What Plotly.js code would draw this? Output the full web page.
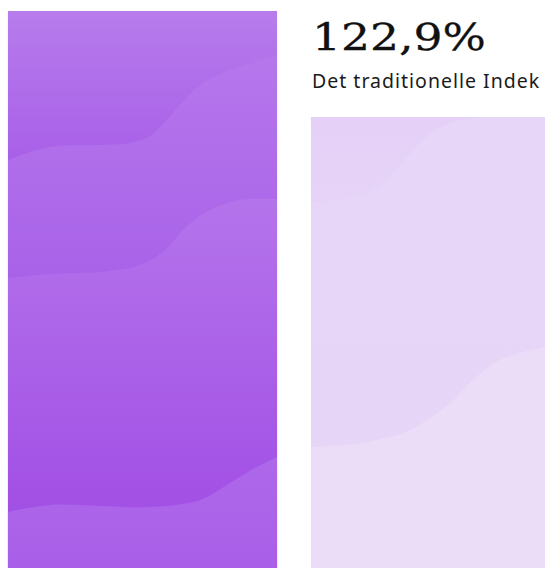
<!DOCTYPE html>
<html><head><meta charset="utf-8">
<script src="https://cdn.plot.ly/plotly-3.0.1.min.js"></script>
<style>
html,body{margin:0;padding:0;background:#fff;overflow:hidden}
#chart{width:545px;height:568px}
text[data-unformatted="122,9%"]{transform:scaleX(1.2);transform-box:fill-box;transform-origin:0 50%;stroke:#111111;stroke-width:0.3px}
text[data-unformatted="Det traditionelle Indek"]{letter-spacing:1.0px}
</style></head><body><div id="chart"></div>
<script>
// ---- data ----
const categories = ['Indeks', 'Det traditionelle Indeks'];
const values = [151.8, 122.9];
const valueLabels = ['', '122,9%'];
const subLabels = ['', 'Det traditionelle Indek'];

// ---- style ----
const barWidth = 0.888;
const barColors = ['#ae6aea', '#e8d6f8'];
// decorative wave edges, relative to each bar: [u across width, v down from bar top]
const decor = [
  [ // left bar
    {edge: 'rect', top: '#b77cec', bot: '#a85fe8', vTop: 0, vBot: 0.27},
    {edge: [[0,0.2675],[0.156,0.2442],[0.342,0.2406],[0.4535,0.237],[0.528,0.2244],[0.5836,0.1993],[0.639,0.1688],[0.7138,0.1329],[0.8253,0.1059],[1,0.0808]],
     from: 'bottom', top: '#b677ec', bot: '#a862e8', vTop: 0.08, vBot: 0.48},
    {edge: [[0,0.4794],[0.156,0.4722],[0.342,0.4686],[0.4907,0.456],[0.5836,0.4291],[0.658,0.3896],[0.751,0.3573],[0.8625,0.3393],[1,0.3375]],
     from: 'bottom', top: '#b474eb', bot: '#a24fe5', vTop: 0.337, vBot: 0.90},
    {edge: [[0,0.8995],[0.156,0.8869],[0.342,0.8887],[0.528,0.8905],[0.7138,0.8779],[0.8253,0.8474],[0.9182,0.8205],[1,0.8007]],
     from: 'bottom', top: '#ae68ea', bot: '#a95fe8', vTop: 0.80, vBot: 1}
  ],
  [ // right bar
    {edge: 'rect', top: '#e8d6f8', bot: '#e7d5f8', vTop: 0, vBot: 1},
    {edge: [[0,0.1885],[0.0818,0.1863],[0.2082,0.1685],[0.2825,0.1397],[0.3569,0.0887],[0.4312,0.0443],[0.5167,0.0133],[0.6022,0.0022],[0.6468,0]],
     from: 'top', top: '#e5d1f7', bot: '#e6d3f7', vTop: 0, vBot: 0.19},
    {edge: [[0,0.7317],[0.2082,0.7206],[0.368,0.694],[0.5167,0.6341],[0.6022,0.5831],[0.7026,0.5388],[0.8699,0.51],[1,0.4989]],
     from: 'bottom', top: '#ebdcf8', bot: '#ebdcf8', vTop: 0.49, vBot: 1}
  ]
];

const traces = [{
  type: 'bar', x: categories.map((c, i) => i), y: values, width: barWidth,
  marker: {color: barColors, line: {width: 0}}, hoverinfo: 'skip', text: categories, textposition: 'none'
}];

values.forEach((val, i) => {
  const toX = u => i - barWidth / 2 + u * barWidth;
  const toY = v => val * (1 - v);
  decor[i].forEach(b => {
    let baseY, ex, ey, shape;
    if (b.edge === 'rect') {
      baseY = -3; ex = [toX(0), toX(1)]; ey = [val, val]; shape = 'linear';
    } else {
      baseY = b.from === 'top' ? val : -3;
      ex = b.edge.map(p => toX(p[0])); ey = b.edge.map(p => toY(p[1])); shape = 'spline';
    }
    traces.push({type: 'scatter', mode: 'lines', x: [toX(0), toX(1)], y: [baseY, baseY],
      line: {width: 0}, hoverinfo: 'skip', showlegend: false});
    traces.push({type: 'scatter', mode: 'lines', x: ex, y: ey,
      line: {width: 0, shape: shape}, fill: 'tonexty', hoverinfo: 'skip', showlegend: false,
      fillgradient: {type: 'vertical', start: toY(b.vBot), stop: toY(b.vTop),
        colorscale: [[0, b.bot], [1, b.top]]}});
  });
});

const annotations = [];
values.forEach((val, i) => {
  if (valueLabels[i]) annotations.push({xref: 'x', yref: 'paper', x: i - barWidth / 2, y: 1 - 36.5 / 568,
    xanchor: 'left', yanchor: 'middle', showarrow: false, borderpad: 0, text: valueLabels[i],
    font: {family: 'DejaVu Serif', size: 38, color: '#111111'}});
  if (subLabels[i]) annotations.push({xref: 'x', yref: 'paper', x: i - barWidth / 2, y: 1 - 81 / 568,
    xanchor: 'left', yanchor: 'middle', showarrow: false, borderpad: 0, text: subLabels[i],
    font: {family: 'Noto Sans', size: 19.5, color: '#1b1b1b'}});
});

const layout = {
  width: 545, height: 568, margin: {l: 0, r: 0, t: 0, b: 0, pad: 0},
  paper_bgcolor: '#ffffff', plot_bgcolor: '#ffffff', showlegend: false, hovermode: false,
  xaxis: {type: 'linear', range: [-0.4703, 1.3284], visible: false, fixedrange: true,
    tickvals: [0, 1], ticktext: categories},
  yaxis: {range: [0, 154.8], visible: false, fixedrange: true},
  annotations: annotations
};
Plotly.newPlot('chart', traces, layout, {displayModeBar: false, staticPlot: true});
</script></body></html>
